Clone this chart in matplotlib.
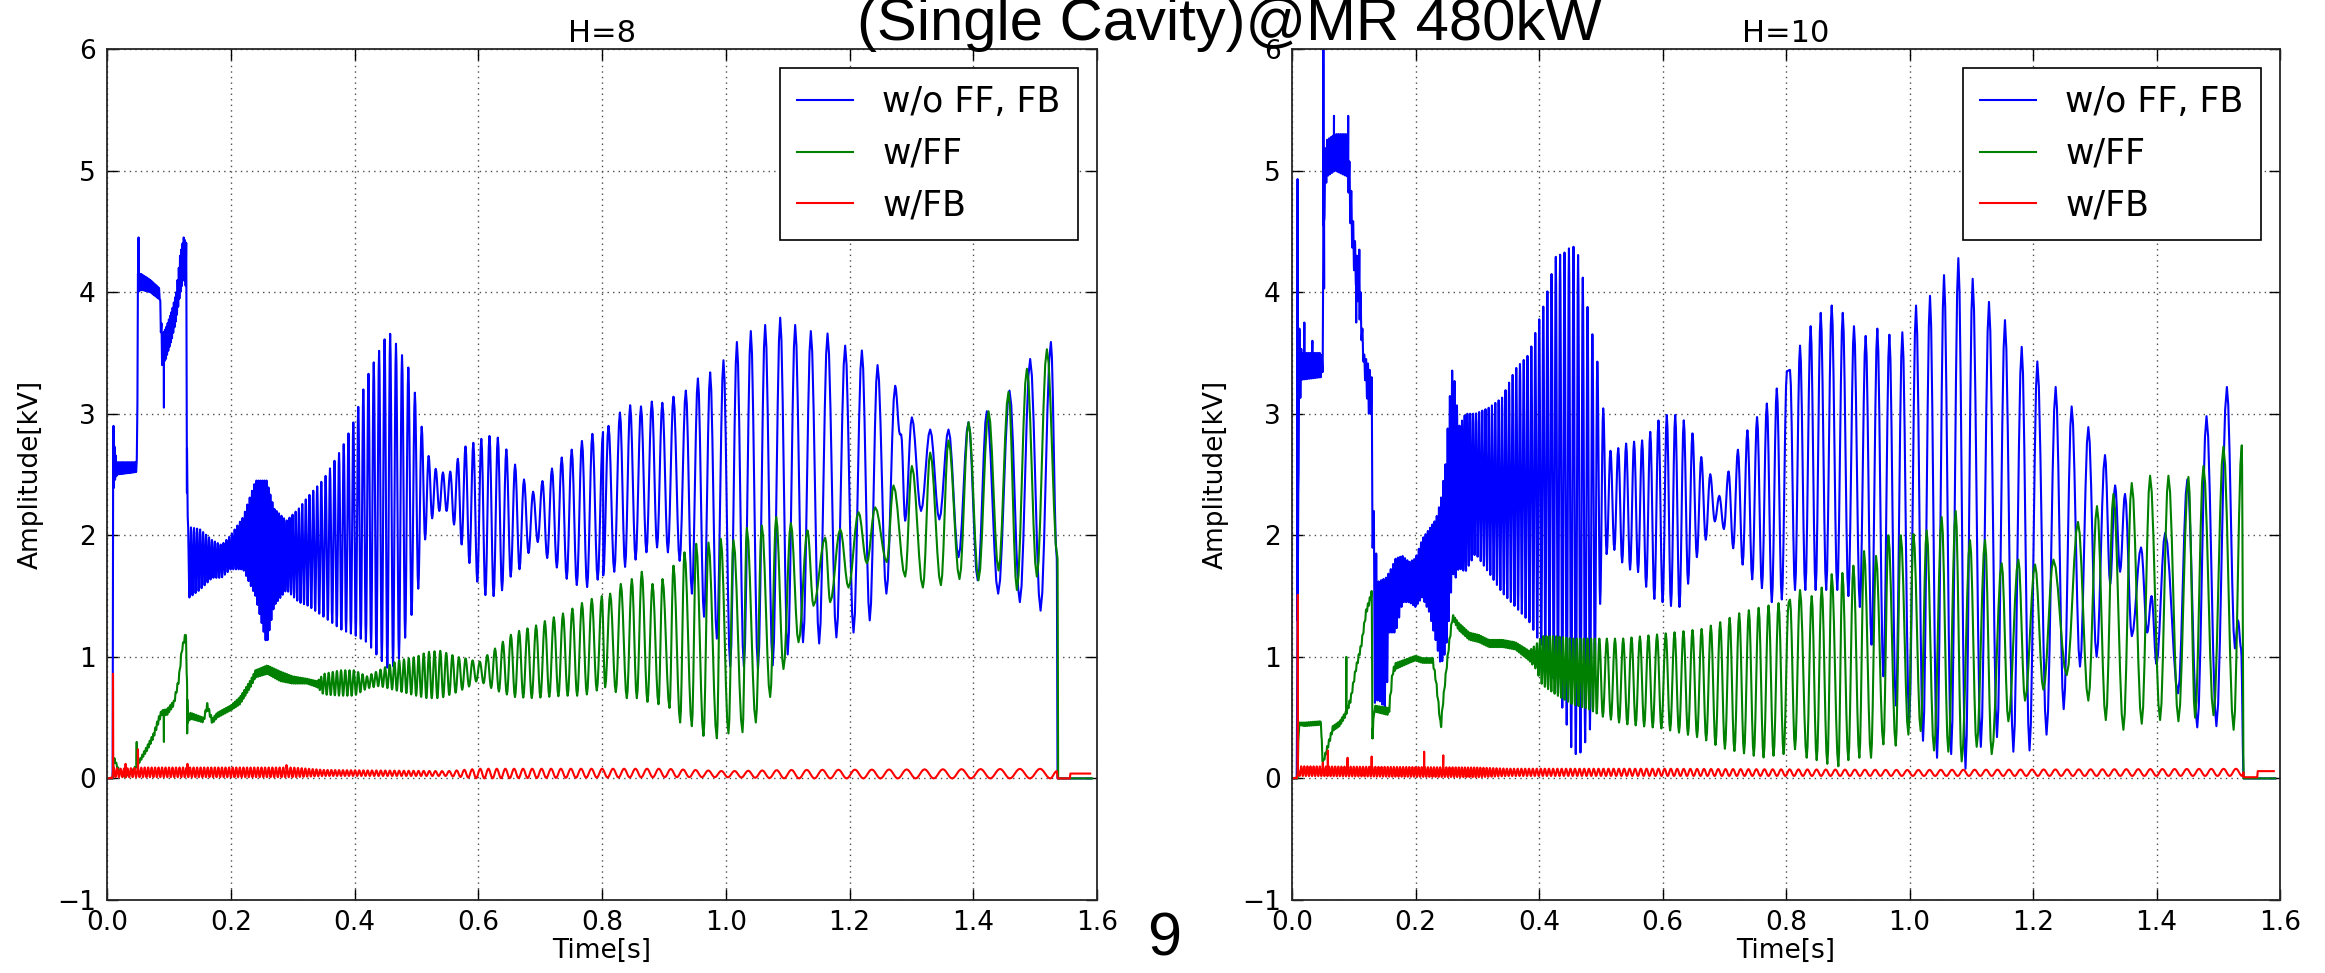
import numpy as np
import matplotlib
matplotlib.use('Agg')
import matplotlib.pyplot as plt

# ------------------------------------------------------------------
# Data.
# Dense (unresolved) stretches: envelope knots (time, upper, lower) and
# the oscillation period; resolved stretches: explicit peak/trough points;
# single-sample spikes listed separately.
# ------------------------------------------------------------------
XTICKS = [0.0, 0.2, 0.4, 0.6, 0.8, 1.0, 1.2, 1.4, 1.6]
XTICKLABELS = ['0.0', '0.2', '0.4', '0.6', '0.8', '1.0', '1.2', '1.4', '1.6']
YTICKS = [-1, 0, 1, 2, 3, 4, 5, 6]
YTICKLABELS = ['\u22121', '0', '1', '2', '3', '4', '5', '6']
SERIES_LABELS = ['w/o FF, FB', 'w/FF', 'w/FB']
PANEL_TITLES = ['H=8', 'H=10']

# ---------------- H=8 : w/o FF, FB ----------------
B8_env_t = [0.0, 0.0094, 0.0100, 0.0125, 0.016, 0.047, 0.0485, 0.0500, 0.055, 0.070, 0.085, 0.089,
            0.095, 0.105, 0.112, 0.118, 0.124, 0.1285, 0.1295, 0.131, 0.150, 0.170, 0.185, 0.200,
            0.220, 0.240, 0.258, 0.270, 0.290, 0.310, 0.325, 0.350, 0.380, 0.400, 0.420, 0.440,
            0.455, 0.470, 0.490, 0.505, 0.515, 0.530, 0.550, 0.560, 0.575, 0.600, 0.615, 0.635,
            0.655, 0.675, 0.690, 0.710, 0.730, 0.750, 0.780, 0.800]
B8_env_hi = [0.0, 0.0, 2.85, 2.70, 2.60, 2.60, 2.60, 4.15, 4.15, 4.10, 4.03, 3.65,
             3.70, 3.85, 4.00, 4.30, 4.45, 4.40, 2.30, 2.07, 2.05, 1.96, 1.92, 2.00,
             2.15, 2.45, 2.45, 2.22, 2.12, 2.22, 2.32, 2.46, 2.72, 2.95, 3.30, 3.52,
             3.68, 3.55, 3.35, 3.00, 2.70, 2.55, 2.50, 2.55, 2.72, 2.78, 2.82, 2.80,
             2.62, 2.45, 2.35, 2.49, 2.62, 2.70, 2.83, 2.85]
B8_env_lo = [0.0, 0.0, 2.35, 2.45, 2.50, 2.52, 2.52, 4.00, 4.02, 4.00, 3.94, 3.40,
             3.45, 3.62, 3.78, 3.98, 4.12, 4.02, 1.50, 1.48, 1.55, 1.65, 1.65, 1.72,
             1.72, 1.50, 1.10, 1.42, 1.55, 1.45, 1.42, 1.33, 1.22, 1.18, 1.12, 0.99,
             0.90, 0.95, 1.30, 1.60, 2.00, 2.20, 2.20, 2.10, 1.90, 1.60, 1.48, 1.52,
             1.68, 1.75, 2.00, 1.82, 1.72, 1.60, 1.57, 1.67]
B8_per_t = [0.0, 0.128, 0.130, 0.200, 0.260, 0.300, 0.350, 0.450, 0.500, 0.600, 0.800]
B8_per_v = [0.002, 0.002, 0.005, 0.0045, 0.003, 0.005, 0.007, 0.009, 0.011, 0.013, 0.0175]
B8_ext_t = [0.802, 0.8105, 0.8198, 0.829, 0.8373, 0.8455, 0.8543, 0.863, 0.8718, 0.8805, 0.889,
            0.8975, 0.9065, 0.9155, 0.9255, 0.9355, 0.9453, 0.955, 0.9649, 0.9748, 0.9856,
            0.9963, 1.0072, 1.018, 1.0293, 1.0405, 1.0521, 1.0637, 1.0759, 1.088, 1.1001,
            1.1122, 1.1249, 1.1375, 1.151, 1.1645, 1.1788, 1.193, 1.2065, 1.220, 1.2327,
            1.2453, 1.2596, 1.2738, 1.2815, 1.2835, 1.2900, 1.3008, 1.3156, 1.3304, 1.3452,
            1.360, 1.3762, 1.3923, 1.4072, 1.422, 1.4403, 1.4586, 1.4753, 1.492, 1.5088,
            1.5255, 1.535, 1.5362, 1.590]
B8_ext_v = [1.67, 2.90, 1.70, 3.01, 1.74, 3.07, 1.80, 3.06, 1.86, 3.10, 1.90,
            3.09, 1.86, 3.14, 1.79, 3.19, 1.52, 3.29, 1.33, 3.34, 1.15,
            3.44, 0.92, 3.59, 0.92, 3.68, 0.90, 3.73, 0.93, 3.79, 1.02,
            3.73, 1.12, 3.68, 1.11, 3.66, 1.16, 3.56, 1.20, 3.52, 1.30,
            3.40, 1.52, 3.23, 2.83, 2.83, 2.12, 2.97, 2.20, 2.87, 2.13,
            2.87, 1.82, 2.93, 1.63, 3.02, 1.52, 3.19, 1.45, 3.45, 1.38,
            3.59, 1.81, 0.0, 0.0]
B8_spk_t = [0.0105, 0.051, 0.092, 0.1292]
B8_spk_v = [2.90, 4.45, 3.05, 2.35]

# ---------------- H=8 : w/FF ----------------
G8_env_t = [0.0, 0.0090, 0.0110, 0.018, 0.027, 0.040, 0.047, 0.050, 0.065, 0.075, 0.083, 0.088,
            0.097, 0.108, 0.116, 0.121, 0.1285, 0.1295, 0.135, 0.156, 0.162, 0.170, 0.178,
            0.200, 0.215, 0.232, 0.240, 0.259, 0.280, 0.300, 0.323, 0.340, 0.350, 0.377,
            0.400, 0.420, 0.440, 0.470, 0.500, 0.517, 0.539, 0.566, 0.587, 0.600, 0.625,
            0.657, 0.690, 0.710, 0.743, 0.770, 0.795]
G8_env_hi = [0.0, 0.0, 0.18, 0.09, 0.03, 0.06, 0.11, 0.13, 0.27, 0.37, 0.50, 0.56,
             0.57, 0.64, 0.83, 1.08, 1.23, 0.45, 0.54, 0.50, 0.62, 0.49, 0.54,
             0.60, 0.67, 0.81, 0.89, 0.93, 0.88, 0.84, 0.82, 0.80, 0.86, 0.89,
             0.89, 0.84, 0.89, 0.97, 1.00, 1.04, 1.05, 1.00, 0.98, 0.95, 1.06,
             1.20, 1.25, 1.30, 1.37, 1.45, 1.50]
G8_env_lo = [0.0, 0.0, 0.16, 0.07, 0.01, 0.04, 0.09, 0.11, 0.23, 0.33, 0.45, 0.52,
             0.52, 0.60, 0.79, 1.04, 1.20, 0.45, 0.49, 0.46, 0.58, 0.45, 0.50,
             0.56, 0.61, 0.75, 0.83, 0.86, 0.80, 0.78, 0.78, 0.75, 0.69, 0.68,
             0.68, 0.74, 0.76, 0.72, 0.68, 0.66, 0.66, 0.71, 0.76, 0.81, 0.73,
             0.67, 0.66, 0.67, 0.68, 0.68, 0.73]
G8_per_t = [0.0, 0.340, 0.350, 0.500, 0.600, 0.800]
G8_per_v = [0.003, 0.003, 0.0065, 0.008, 0.012, 0.0165]
G8_ext_t = [0.8051, 0.8132, 0.8223, 0.8304, 0.8401, 0.8482, 0.8563, 0.8643, 0.8735, 0.8816,
            0.8913, 0.8978, 0.9091, 0.9155, 0.9263, 0.9333, 0.9452, 0.9522, 0.964, 0.9721,
            0.9856, 0.992, 1.0044, 1.0125, 1.0271, 1.0341, 1.0486, 1.0583, 1.0718, 1.0815,
            1.0933, 1.1052, 1.1176, 1.1321, 1.1418, 1.1607, 1.1688, 1.185, 1.1984, 1.2146,
            1.228, 1.2415, 1.2603, 1.2711, 1.290, 1.3008, 1.3186, 1.3304, 1.3477, 1.360,
            1.3778, 1.3924, 1.4085, 1.4247, 1.4409, 1.457, 1.4705, 1.4867, 1.5028, 1.519,
            1.5362, 1.5372, 1.592]
G8_ext_v = [0.75, 1.52, 0.71, 1.60, 0.66, 1.64, 0.66, 1.70, 0.63, 1.60,
            0.61, 1.64, 0.58, 1.75, 0.46, 1.86, 0.43, 1.93, 0.35, 1.94,
            0.33, 1.97, 0.37, 1.96, 0.38, 2.06, 0.46, 2.08, 0.67, 2.15,
            0.90, 2.10, 1.12, 2.04, 1.42, 1.98, 1.45, 2.05, 1.57, 2.19,
            1.77, 2.23, 1.78, 2.41, 1.66, 2.57, 1.57, 2.68, 1.59, 2.78,
            1.64, 2.93, 1.63, 3.02, 1.71, 3.18, 1.55, 3.37, 1.66, 3.53,
            1.81, 0.0, 0.0]
G8_spk_t = [0.048, 0.092, 0.1296]
G8_spk_v = [0.30, 0.30, 0.37]

# ---------------- H=8 : w/FB ----------------
R8_env_t = [0.0, 0.0090, 0.011, 0.020, 0.060, 0.300, 0.350, 0.550, 0.600, 0.900, 1.000, 1.100, 1.535]
R8_env_hi = [0.0, 0.01, 0.09, 0.08, 0.09, 0.09, 0.07, 0.06, 0.08, 0.08, 0.06, 0.07, 0.08]
R8_env_lo = [0.0, 0.0, 0.01, 0.01, 0.01, 0.01, 0.02, 0.02, 0.0, 0.01, 0.01, 0.0, 0.0]
R8_per_t = [0.0, 0.350, 0.500, 0.550, 0.800, 1.000, 1.200, 1.500]
R8_per_v = [0.0055, 0.006, 0.008, 0.012, 0.0175, 0.0215, 0.027, 0.033]
R8_ext_t = [1.535, 1.5365, 1.556, 1.557, 1.589]
R8_ext_v = [0.06, 0.0, 0.0, 0.04, 0.04]
R8_spk_t = [0.0097, 0.050, 0.030, 0.130, 0.290]
R8_spk_v = [0.86, 0.24, 0.12, 0.12, 0.11]

# ---------------- H=10 : w/o FF, FB ----------------
B10_env_t = [0.0, 0.0085, 0.0100, 0.0130, 0.016, 0.047, 0.0500, 0.0515, 0.056, 0.070, 0.090, 0.094,
             0.100, 0.105, 0.110, 0.116, 0.124, 0.129, 0.131, 0.134, 0.140, 0.152, 0.158, 0.168,
             0.179, 0.190, 0.200, 0.211, 0.222, 0.233, 0.241, 0.249, 0.254, 0.260, 0.265, 0.270,
             0.281, 0.297, 0.319, 0.340, 0.362, 0.384, 0.400, 0.410, 0.427, 0.443, 0.454, 0.465,
             0.475, 0.483, 0.492, 0.500, 0.513, 0.530, 0.546, 0.565, 0.580, 0.600, 0.626, 0.645,
             0.660, 0.675, 0.686, 0.694, 0.705, 0.715, 0.742, 0.758, 0.775, 0.788, 0.800]
B10_env_hi = [0.0, 0.0, 3.9, 3.6, 3.5, 3.5, 3.45, 5.1, 5.25, 5.3, 5.3, 5.0,
              4.5, 4.3, 4.1, 3.5, 3.4, 3.3, 2.37, 2.0, 1.62, 1.65, 1.70, 1.81,
              1.83, 1.78, 1.81, 1.97, 2.05, 2.13, 2.29, 2.60, 3.05, 3.39, 3.20, 2.89,
              3.00, 3.00, 3.05, 3.13, 3.37, 3.49, 3.77, 3.93, 4.29, 4.33, 4.39, 4.29,
              4.00, 3.73, 3.53, 3.20, 2.69, 2.72, 2.77, 2.77, 2.85, 2.99, 2.99, 2.89,
              2.67, 2.53, 2.40, 2.30, 2.50, 2.63, 2.91, 3.00, 3.13, 3.23, 3.35]
B10_env_lo = [0.0, 0.0, 2.3, 3.1, 3.28, 3.3, 3.35, 4.5, 4.95, 5.0, 4.95, 4.6,
              4.2, 4.0, 3.75, 3.4, 3.0, 3.0, 1.53, 0.62, 0.65, 0.57, 1.20, 1.20,
              1.45, 1.45, 1.41, 1.49, 1.37, 1.13, 0.93, 1.05, 1.30, 1.69, 1.65, 1.73,
              1.70, 1.85, 1.69, 1.53, 1.41, 1.29, 1.13, 1.05, 0.77, 0.49, 0.21, 0.19,
              0.30, 0.41, 1.00, 1.50, 1.97, 1.80, 1.72, 1.69, 1.49, 1.45, 1.39, 1.65,
              1.89, 2.00, 2.13, 2.15, 1.95, 1.89, 1.65, 1.59, 1.45, 1.45, 1.50]
B10_per_t = [0.0, 0.129, 0.131, 0.250, 0.300, 0.400, 0.490, 0.510, 0.600, 0.800]
B10_per_v = [0.003, 0.003, 0.004, 0.0035, 0.005, 0.0065, 0.008, 0.0125, 0.0135, 0.0165]
B10_ext_t = [0.8065, 0.8146, 0.8227, 0.8313, 0.8399, 0.848, 0.8562, 0.8651, 0.874, 0.883,
             0.8919, 0.901, 0.9101, 0.9196, 0.929, 0.9385, 0.9479, 0.9577, 0.9674, 0.9779,
             0.9884, 0.9995, 1.0106, 1.0219, 1.0332, 1.0446, 1.0559, 1.0675, 1.0791, 1.0907,
             1.1023, 1.1155, 1.1287, 1.1417, 1.1546, 1.1682, 1.1817, 1.1944, 1.207, 1.2219,
             1.2367, 1.2497, 1.2626, 1.2761, 1.2896, 1.303, 1.3166, 1.325, 1.333, 1.341,
             1.349, 1.360, 1.375, 1.385, 1.392, 1.400, 1.414, 1.435, 1.450, 1.466,
             1.481, 1.497, 1.514, 1.527, 1.532, 1.537, 1.5412, 1.592]
B10_ext_v = [3.36, 1.55, 3.56, 1.55, 3.72, 1.55, 3.83, 1.55, 3.89, 1.55,
             3.83, 1.50, 3.72, 1.41, 3.64, 1.10, 3.70, 0.84, 3.65, 0.60,
             3.67, 0.48, 3.89, 0.31, 3.97, 0.17, 4.14, 0.20, 4.28, 0.08,
             4.11, 0.26, 3.92, 0.34, 3.77, 0.22, 3.55, 0.23, 3.43, 0.36,
             3.22, 0.57, 3.06, 0.92, 2.89, 1.00, 2.66, 1.60, 2.41, 1.70,
             2.34, 1.17, 1.90, 1.20, 1.50, 0.94, 2.02, 0.70, 2.46, 0.42,
             2.98, 0.43, 3.22, 1.07, 1.30, 1.07, 0.0, 0.0]
B10_spk_t = [0.009, 0.020, 0.033, 0.0508, 0.052, 0.068, 0.085, 0.091, 0.104, 0.109]
B10_spk_v = [4.93, 3.75, 3.60, 6.0, 4.03, 5.45, 5.25, 5.45, 3.75, 4.35]

# ---------------- H=10 : w/FF ----------------
G10_env_t = [0.0, 0.0090, 0.0110, 0.020, 0.045, 0.0475, 0.0485, 0.050, 0.055, 0.066, 0.077, 0.087,
             0.095, 0.103, 0.112, 0.120, 0.1295, 0.1305, 0.133, 0.157, 0.163, 0.168, 0.190,
             0.200, 0.211, 0.228, 0.233, 0.238, 0.241, 0.244, 0.249, 0.254, 0.260, 0.270,
             0.287, 0.303, 0.319, 0.341, 0.362, 0.384, 0.395, 0.405, 0.427, 0.454, 0.481,
             0.502, 0.535, 0.567, 0.600, 0.632, 0.664, 0.696, 0.729, 0.761, 0.795]
G10_env_hi = [0.0, 0.0, 0.46, 0.46, 0.47, 0.50, 0.17, 0.14, 0.23, 0.43, 0.47, 0.55,
              0.67, 0.91, 1.11, 1.39, 1.55, 0.35, 0.60, 0.58, 0.90, 0.95, 0.99,
              1.01, 0.99, 0.99, 0.83, 0.59, 0.43, 0.62, 0.87, 1.11, 1.35, 1.28,
              1.20, 1.18, 1.14, 1.14, 1.12, 1.05, 1.10, 1.17, 1.17, 1.15, 1.15,
              1.15, 1.15, 1.17, 1.19, 1.21, 1.23, 1.29, 1.37, 1.41, 1.45]
G10_env_lo = [0.0, 0.0, 0.44, 0.43, 0.44, 0.48, 0.17, 0.12, 0.19, 0.39, 0.43, 0.51,
              0.63, 0.87, 1.07, 1.35, 1.50, 0.33, 0.55, 0.52, 0.85, 0.90, 0.95,
              0.97, 0.95, 0.95, 0.79, 0.55, 0.39, 0.58, 0.83, 1.07, 1.31, 1.22,
              1.14, 1.12, 1.08, 1.08, 1.06, 0.97, 0.90, 0.77, 0.69, 0.61, 0.57,
              0.51, 0.45, 0.43, 0.41, 0.37, 0.33, 0.25, 0.21, 0.17, 0.20]
G10_per_t = [0.0, 0.384, 0.390, 0.490, 0.500, 0.800]
G10_per_v = [0.003, 0.003, 0.005, 0.006, 0.013, 0.0165]
G10_ext_t = [0.8065, 0.8146, 0.8227, 0.8335, 0.8416, 0.8497, 0.8578, 0.8669, 0.874, 0.8848,
             0.8913, 0.901, 0.9091, 0.9188, 0.9264, 0.9377, 0.9458, 0.9577, 0.9658, 0.9777,
             0.9858, 0.9982, 1.0064, 1.0181, 1.0278, 1.0397, 1.0521, 1.0629, 1.0748, 1.0845,
             1.098, 1.1088, 1.1223, 1.1331, 1.1493, 1.1601, 1.1763, 1.1871, 1.2033, 1.2168,
             1.2331, 1.2546, 1.2729, 1.2896, 1.3036, 1.3179, 1.3302, 1.3464, 1.3599, 1.3761,
             1.3896, 1.4058, 1.4193, 1.4355, 1.4517, 1.4625, 1.476, 1.4923, 1.5084, 1.5249,
             1.5381, 1.5412, 1.592]
G10_ext_v = [1.47, 0.24, 1.55, 0.17, 1.50, 0.15, 1.57, 0.12, 1.68, 0.10,
             1.69, 0.15, 1.75, 0.17, 1.87, 0.17, 1.83, 0.28, 2.00, 0.27,
             2.00, 0.36, 2.01, 0.39, 2.04, 0.23, 2.15, 0.22, 2.20, 0.14,
             1.96, 0.26, 1.96, 0.20, 1.77, 0.47, 1.80, 0.64, 1.76, 0.73,
             1.80, 0.85, 2.11, 0.64, 2.24, 0.48, 2.34, 0.40, 2.43, 0.45,
             2.49, 0.48, 2.49, 0.47, 2.48, 0.50, 2.57, 0.52, 2.73, 0.40,
             2.74, 0.0, 0.0]
G10_spk_t = [0.088, 0.1302]
G10_spk_v = [1.00, 0.33]

# ---------------- H=10 : w/FB ----------------
R10_env_t = [0.0, 0.0085, 0.011, 0.300, 0.350, 0.600, 1.000, 1.541]
R10_env_hi = [0.0, 0.01, 0.10, 0.09, 0.08, 0.08, 0.07, 0.08]
R10_env_lo = [0.0, 0.0, 0.02, 0.01, 0.02, 0.02, 0.02, 0.02]
R10_per_t = [0.0, 0.300, 0.500, 0.700, 1.000, 1.500]
R10_per_v = [0.005, 0.005, 0.008, 0.012, 0.018, 0.020]
R10_ext_t = [1.541, 1.5412, 1.563, 1.564, 1.590]
R10_ext_v = [0.05, 0.01, 0.01, 0.06, 0.06]
R10_spk_t = [0.0095, 0.050, 0.058, 0.090, 0.129, 0.214, 0.245]
R10_spk_v = [1.51, 0.13, 0.23, 0.17, 0.18, 0.22, 0.19]


# ------------------------------------------------------------------
def build_trace(env_t, env_hi, env_lo, per_t, per_v, ext_t, ext_v, spk_t, spk_v, m=6):
    """Peaks/troughs: alternate between the read envelopes at the read period in
    dense stretches, then the read extremes; join consecutive extremes smoothly."""
    t_end = ext_t[0]
    ts = []
    t = 0.0
    while t < t_end:
        ts.append(t)
        t += np.interp(t, per_t, per_v) / 2.0
    ts = np.array(ts)
    hi = np.interp(ts, env_t, env_hi)
    lo = np.interp(ts, env_t, env_lo)
    vs = np.where(np.arange(len(ts)) % 2 == 0, hi, lo)
    ts = np.concatenate([ts, ext_t])
    vs = np.concatenate([vs, ext_v])
    s = np.linspace(0, 1, m + 1)[1:]
    w = (1 - np.cos(np.pi * s)) / 2
    out_t = [ts[:1]]
    out_v = [vs[:1]]
    for i in range(len(ts) - 1):
        out_t.append(ts[i] + (ts[i + 1] - ts[i]) * s)
        out_v.append(vs[i] + (vs[i + 1] - vs[i]) * w)
    tt = np.concatenate(out_t)
    vv = np.concatenate(out_v)
    for st, sv in zip(spk_t, spk_v):
        k = np.searchsorted(tt, st)
        tt = np.insert(tt, k, st)
        vv = np.insert(vv, k, sv)
    return tt, vv


panels = [
    [(B8_env_t, B8_env_hi, B8_env_lo, B8_per_t, B8_per_v, B8_ext_t, B8_ext_v, B8_spk_t, B8_spk_v),
     (G8_env_t, G8_env_hi, G8_env_lo, G8_per_t, G8_per_v, G8_ext_t, G8_ext_v, G8_spk_t, G8_spk_v),
     (R8_env_t, R8_env_hi, R8_env_lo, R8_per_t, R8_per_v, R8_ext_t, R8_ext_v, R8_spk_t, R8_spk_v)],
    [(B10_env_t, B10_env_hi, B10_env_lo, B10_per_t, B10_per_v, B10_ext_t, B10_ext_v, B10_spk_t, B10_spk_v),
     (G10_env_t, G10_env_hi, G10_env_lo, G10_per_t, G10_per_v, G10_ext_t, G10_ext_v, G10_spk_t, G10_spk_v),
     (R10_env_t, R10_env_hi, R10_env_lo, R10_per_t, R10_per_v, R10_ext_t, R10_ext_v, R10_spk_t, R10_spk_v)],
]
COLORS = ['#0000ff', '#008000', '#ff0000']

FW, FH = 2325, 973
fig = plt.figure(figsize=(FW / 100, FH / 100), dpi=100)
axes_px = [(107, 73, 990, 851), (1292, 73, 988, 851)]

for p, (x0, y0, w, h) in enumerate(axes_px):
    ax = fig.add_axes([x0 / FW, y0 / FH, w / FW, h / FH])
    for s_i, args in enumerate(panels[p]):
        tt, vv = build_trace(*args)
        ax.plot(tt, vv, color=COLORS[s_i], lw=1.5, label=SERIES_LABELS[s_i])
    ax.set_xlim(0, 1.6)
    ax.set_ylim(-1, 6)
    ax.set_xticks(XTICKS)
    ax.set_xticklabels(XTICKLABELS)
    ax.set_yticks(YTICKS)
    ax.set_yticklabels(YTICKLABELS)
    ax.grid(True, color='0.3', linestyle=(0, (1, 3)), linewidth=1.0)
    ax.tick_params(direction='in', top=True, right=True, length=8, width=1, labelsize=19)
    ax.tick_params(axis='x', pad=7)
    ax.tick_params(axis='y', pad=8)
    for sp in ax.spines.values():
        sp.set_linewidth(1.3)
        sp.set_color('0.15')
    ax.set_xlabel('Time[s]', fontsize=19)
    ax.xaxis.set_label_coords(0.5, -0.045)
    ax.xaxis.label.set_va('top')
    ax.set_ylabel('Amplitude[kV]', fontsize=19)
    ax.yaxis.set_label_coords(-0.064, 0.5)
    ax.set_title(PANEL_TITLES[p], fontsize=22, pad=5)
    leg = ax.legend(loc='upper right', fontsize=25, frameon=True, fancybox=False,
                    edgecolor='k', framealpha=1, borderaxespad=0.55, handlelength=1.6,
                    handletextpad=0.85, labelspacing=0.5, borderpad=0.5)
    leg.get_frame().set_linewidth(1.2)
    for ln in leg.get_lines():
        ln.set_linewidth(1.5)

fig.text(1229 / FW, 1 - 40 / FH, '(Single Cavity)@MR 480kW', fontsize=43,
         family='Liberation Sans', ha='center', va='baseline')
fig.text(1164 / FW, 1 - 956 / FH, '9', fontsize=44, family='Liberation Sans',
         ha='center', va='baseline')

fig.savefig('out.png', dpi=100)
